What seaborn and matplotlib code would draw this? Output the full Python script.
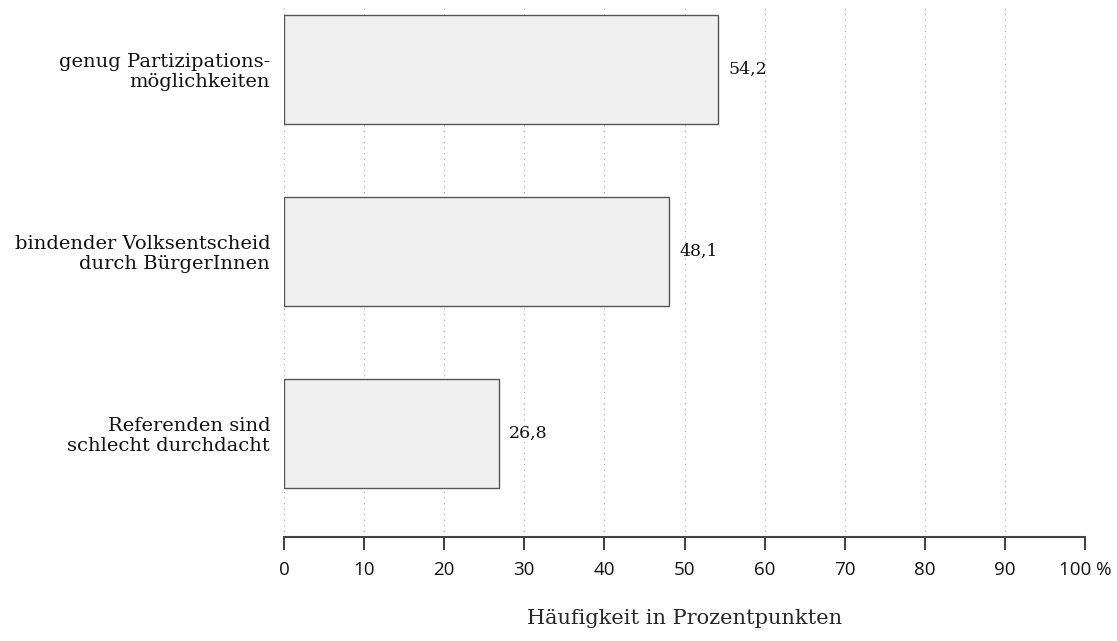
import pandas as pd
import matplotlib
matplotlib.use("Agg")
import matplotlib.pyplot as plt
import seaborn as sns

# chart data
categories = [
    "genug Partizipations-\nmöglichkeiten",
    "bindender Volksentscheid\ndurch BürgerInnen",
    "Referenden sind\nschlecht durchdacht",
]
values = [54.2, 48.1, 26.8]
ticks = [0, 10, 20, 30, 40, 50, 60, 70, 80, 90, 100]
tick_labels = ["0", "10", "20", "30", "40", "50", "60", "70", "80", "90", "100 %"]

df = pd.DataFrame({"kategorie": categories, "wert": values})

sns.set_style("white")
plt.rcParams["font.family"] = ["DejaVu Serif"]
plt.rcParams["text.color"] = "#111111"

fig = plt.figure(figsize=(11.17, 6.41), dpi=100)
ax = fig.add_axes([0.2543, 0.1622, 0.7171, 0.8253])

sns.barplot(data=df, x="wert", y="kategorie", orient="h", color="#f0f0f0",
            edgecolor="#555555", linewidth=1.0, width=0.6, saturation=1, ax=ax)

# value labels next to each bar
for i, v in enumerate(values):
    ax.text(v + 1.3, i, f"{v:.1f}".replace(".", ","), va="center", ha="left",
            fontsize=12.5, color="#111111")

ax.set_xlim(0, 100)
ax.set_ylim(2.571, -0.338)
ax.set_xticks(ticks)
ax.set_xticklabels(tick_labels, fontsize=13.5, family="Open Sans", color="#111111")
ax.xaxis.grid(True, linestyle=(0, (1, 4)), color="#aaaaaa", linewidth=0.8)
ax.set_axisbelow(True)

for s in ["top", "right", "left"]:
    ax.spines[s].set_visible(False)
ax.spines["bottom"].set_color("#444444")
ax.spines["bottom"].set_linewidth(1.5)
ax.tick_params(axis="x", bottom=True, direction="out", length=9, width=1.5,
               color="#444444", pad=8)
ax.tick_params(axis="y", left=False, length=0, pad=10, labelsize=14)
for lbl in ax.get_yticklabels():
    lbl.set_multialignment("right")
    lbl.set_linespacing(1.1)
    lbl.set_color("#111111")

ax.set_ylabel("")
ax.set_xlabel("Häufigkeit in Prozentpunkten", fontsize=15, labelpad=22)

fig.savefig("out.png", dpi=100)
